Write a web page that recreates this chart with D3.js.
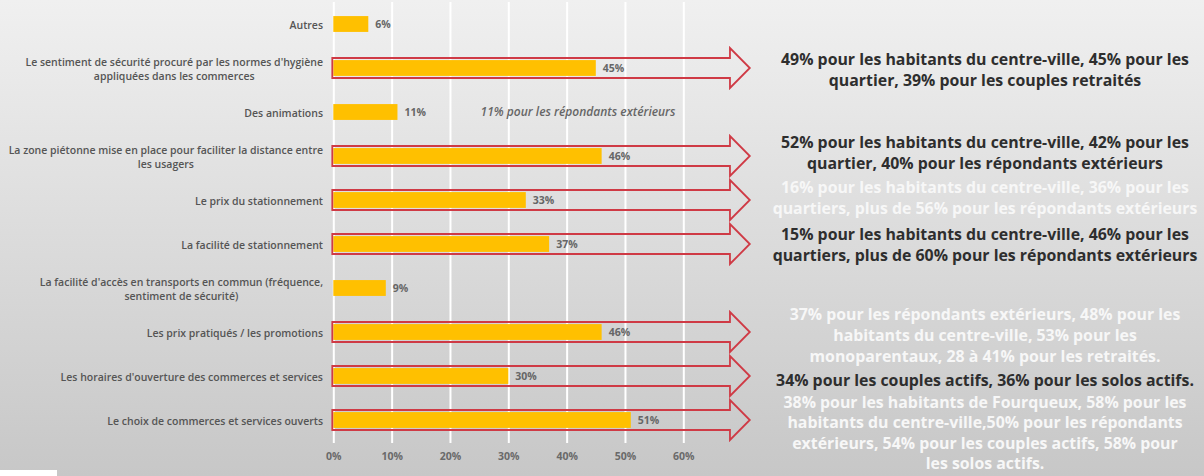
<!DOCTYPE html>
<html lang="fr">
<head>
<meta charset="utf-8">
<script src="https://cdn.jsdelivr.net/npm/d3@7"></script>
<style>
  html, body { margin: 0; padding: 0; background: #ddd; }
  svg { display: block; }
  text { font-family: "Open Sans", Roboto, sans-serif; }
</style>
</head>
<body>
<svg id="chart" width="1204" height="476"></svg>
<script>
// Motifs de fréquentation, part des répondants (%)
const categories = [
  "Autres",
  "Le sentiment de sécurité procuré par les normes d'hygiène|appliquées dans les commerces",
  "Des animations",
  "La zone piétonne mise en place pour faciliter la distance entre|les usagers",
  "Le prix du stationnement",
  "La facilité de stationnement",
  "La facilité d'accès en transports en commun (fréquence,|sentiment de sécurité)",
  "Les prix pratiqués / les promotions",
  "Les horaires d'ouverture des commerces et services",
  "Le choix de commerces et services ouverts"
];
const values = [6, 45, 11, 46, 33, 37, 9, 46, 30, 51];
const tickValues = [0, 10, 20, 30, 40, 50, 60];
const tickLabels = ["0%", "10%", "20%", "30%", "40%", "50%", "60%"];

// Détail par profil de répondants (index de la catégorie, texte, ton)
const commentRows = [1, 3, 4, 5, 7, 8, 9];
const commentTexts = [
  "49% pour les habitants du centre-ville, 45% pour les|quartier, 39% pour les couples retraités",
  "52% pour les habitants du centre-ville, 42% pour les|quartier, 40% pour les répondants extérieurs",
  "16% pour les habitants du centre-ville, 36% pour les|quartiers, plus de 56% pour les répondants extérieurs",
  "15% pour les habitants du centre-ville, 46% pour les|quartiers, plus de 60% pour les répondants extérieurs",
  "37% pour les répondants extérieurs, 48% pour les|habitants du centre-ville, 53% pour les|monoparentaux, 28 à 41% pour les retraités.",
  "34% pour les couples actifs, 36% pour les solos actifs.",
  "38% pour les habitants de Fourqueux, 58% pour les|habitants du centre-ville,50% pour les répondants|extérieurs, 54% pour les couples actifs, 58% pour|les solos actifs."
];
const commentTones = ["dark", "dark", "light", "dark", "light", "dark", "light"];
const inlineNoteRow = 2;
const inlineNote = "11% pour les répondants extérieurs";

const W = 1204, H = 476;
const svg = d3.select("#chart");

// Taille de police pour qu'un texte occupe une largeur donnée
function fitSize(str, target, weight, style, base) {
  const probe = svg.append("text").attr("font-size", base).attr("font-weight", weight)
    .attr("font-style", style || "normal").text(str);
  const w = probe.node().getComputedTextLength();
  probe.remove();
  return base * target / w;
}

// Fond dégradé
const defs = svg.append("defs");
const grad = defs.append("linearGradient").attr("id", "bg").attr("x1", 0).attr("y1", 0).attr("x2", 0).attr("y2", 1);
grad.append("stop").attr("offset", "0%").attr("stop-color", "#f0f0f0");
grad.append("stop").attr("offset", "100%").attr("stop-color", "#c7c7c7");
svg.append("rect").attr("width", W).attr("height", H).attr("fill", "url(#bg)");
svg.append("rect").attr("x", 0).attr("y", 470).attr("width", 57).attr("height", 6).attr("fill", "#ffffff");

// Échelles
const x = d3.scaleLinear().domain([0, 60]).range([333.3, 683.3]);
const y = d3.scaleBand().domain(categories).range([2, 442]).paddingInner(0.64).paddingOuter(0.32);
const cy = c => y(c) + y.bandwidth() / 2;

const smallSize = 10.5;

// Quadrillage vertical + étiquettes de l'axe
const axis = d3.axisBottom(x)
  .tickValues(tickValues)
  .tickFormat((d, i) => tickLabels[i])
  .tickSize(-441)
  .tickPadding(10);
const gAxis = svg.append("g").attr("transform", "translate(0,443)").call(axis);
gAxis.select(".domain").remove();
gAxis.selectAll(".tick line").attr("stroke", "#ffffff").attr("stroke-width", 2);
gAxis.selectAll(".tick text")
  .attr("fill", "#6a6a6a").attr("font-size", smallSize).attr("font-weight", 700)
  .attr("font-family", "\"Open Sans\", sans-serif");

// Barres
svg.append("g").selectAll("rect").data(categories).join("rect")
  .attr("x", x(0))
  .attr("y", c => y(c))
  .attr("width", (c, i) => x(values[i]) - x(0))
  .attr("height", y.bandwidth())
  .attr("fill", "#ffc000");

// Valeurs
svg.append("g").selectAll("text").data(categories).join("text")
  .attr("x", (c, i) => x(values[i]) + 7)
  .attr("y", c => cy(c))
  .attr("dy", "0.35em")
  .attr("fill", "#666")
  .attr("font-size", smallSize)
  .attr("font-weight", 700)
  .text((c, i) => values[i] + "%");

// Libellés des catégories (bloc aligné à droite, lignes centrées)
const labelRight = 323;
const labelSize = fitSize("Le sentiment de sécurité procuré par les normes d'hygiène", 298, 600, "normal", 10);
const gLab = svg.append("g");
categories.forEach(c => {
  const lines = c.split("|");
  const t = gLab.append("text")
    .attr("fill", "#555").attr("font-size", labelSize).attr("font-weight", 600);
  const lh = 14;
  const y0 = cy(c) - (lines.length - 1) * lh / 2 + 1;
  const spans = lines.map((ln, k) => t.append("tspan")
    .attr("y", y0 + k * lh).attr("dy", "0.35em").text(ln));
  const widths = spans.map(s => s.node().getComputedTextLength());
  const wmax = d3.max(widths);
  spans.forEach(s => s.attr("x", labelRight - wmax / 2).attr("text-anchor", "middle"));
});

// Flèches encadrant les barres commentées
const shaftEnd = x(68), tip = x(71.4);
const arrowPath = c => {
  const m = cy(c), hs = 10, hh = 20, x0 = x(0) - 1;
  return `M${x0},${m - hs}H${shaftEnd}V${m - hh}L${tip},${m}L${shaftEnd},${m + hh}V${m + hs}H${x0}Z`;
};
svg.append("g").selectAll("path").data(commentRows).join("path")
  .attr("d", i => arrowPath(categories[i]))
  .attr("fill", "none")
  .attr("stroke", "#cf3a45")
  .attr("stroke-width", 1.8)
  .attr("stroke-linejoin", "miter");

// Note en ligne
const noteSize = fitSize(inlineNote, 195, 600, "italic", 11);
svg.append("text")
  .attr("x", 578).attr("y", cy(categories[inlineNoteRow])).attr("dy", "0.35em")
  .attr("text-anchor", "middle")
  .attr("fill", "#666").attr("font-size", noteSize).attr("font-style", "italic").attr("font-weight", 600)
  .text(inlineNote);

// Commentaires à droite
const commentSize = fitSize("49% pour les habitants du centre-ville, 45% pour les", 408, 700, "normal", 15);
const nudge = [2, -3, -2, 1, 3, 4, 13];
const lineGap = [21, 21, 21, 21, 21, 21, 20.5];
const gCom = svg.append("g");
commentRows.forEach((ri, k) => {
  const lines = commentTexts[k].split("|");
  const lh = lineGap[k];
  const y0 = cy(categories[ri]) + nudge[k] - (lines.length - 1) * lh / 2;
  const t = gCom.append("text")
    .attr("text-anchor", "middle")
    .attr("font-size", commentSize)
    .attr("font-weight", 700)
    .attr("fill", commentTones[k] === "dark" ? "#2e2e2e" : "#f7f7f7");
  lines.forEach((ln, j) => t.append("tspan")
    .attr("x", 985).attr("y", y0 + j * lh).attr("dy", "0.35em").text(ln));
});
</script>
</body>
</html>
